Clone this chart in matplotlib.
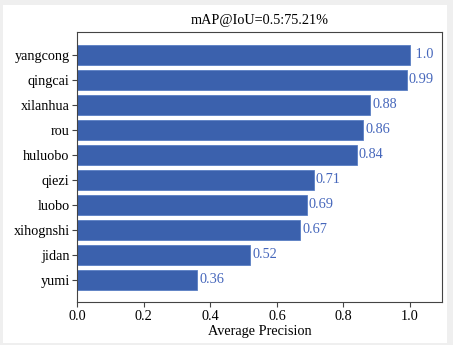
import matplotlib
matplotlib.use("Agg")
import matplotlib.pyplot as plt
from matplotlib.patches import Rectangle

plt.rcParams['font.family'] = ['Liberation Serif', 'DejaVu Serif']

categories = ["yumi", "jidan", "xihognshi", "luobo", "qiezi", "huluobo", "rou", "xilanhua", "qingcai", "yangcong"]
values = [0.36, 0.52, 0.67, 0.69, 0.71, 0.84, 0.86, 0.88, 0.99, 1.0]
value_labels = ["0.36", "0.52", "0.67", "0.69", "0.71", "0.84", "0.86", "0.88", "0.99", "1.0"]
title = "mAP@IoU=0.5:75.21%"
xlabel = "Average Precision"

bar_color = "#3b61ad"
label_color = "#4566bb"
fs = 10.3

fig = plt.figure(figsize=(4.53, 3.45), dpi=100)
fig.patch.set_facecolor("#efefef")
fig.patches.append(Rectangle((3 / 453, 2 / 345), 444 / 453, 338 / 345, transform=fig.transFigure,
                             facecolor="white", edgecolor="none", zorder=-10))
ax = fig.add_axes([77.3 / 453, 1 - 302 / 345, 365 / 453, (302 - 32.3) / 345])
ax.set_facecolor("white")
ypos = list(range(len(categories)))
ax.barh(ypos, values, height=0.8, color=bar_color, edgecolor="#5a7fc4", linewidth=0.6)
ax.set_yticks(ypos)
ax.set_yticklabels(categories, fontsize=fs)
for y, v, lab in zip(ypos, values, value_labels):
    ax.text(v + 0.006, y, " " + lab if lab == "1.0" else lab, color=label_color, va="center", ha="left", fontsize=fs)
ax.set_xlim(0, 1.097)
ax.set_xticks([0.0, 0.2, 0.4, 0.6, 0.8, 1.0])
ax.tick_params(axis='x', labelsize=fs, length=3.5, pad=2, color="#444444")
ax.tick_params(axis='y', length=3.5, pad=2, color="#444444")
ax.set_xlabel(xlabel, fontsize=fs, labelpad=2)
ax.set_title(title, fontsize=fs, pad=6)
for s in ax.spines.values():
    s.set_color("#444444")
fig.savefig("out.png", dpi=100, facecolor=fig.get_facecolor())
